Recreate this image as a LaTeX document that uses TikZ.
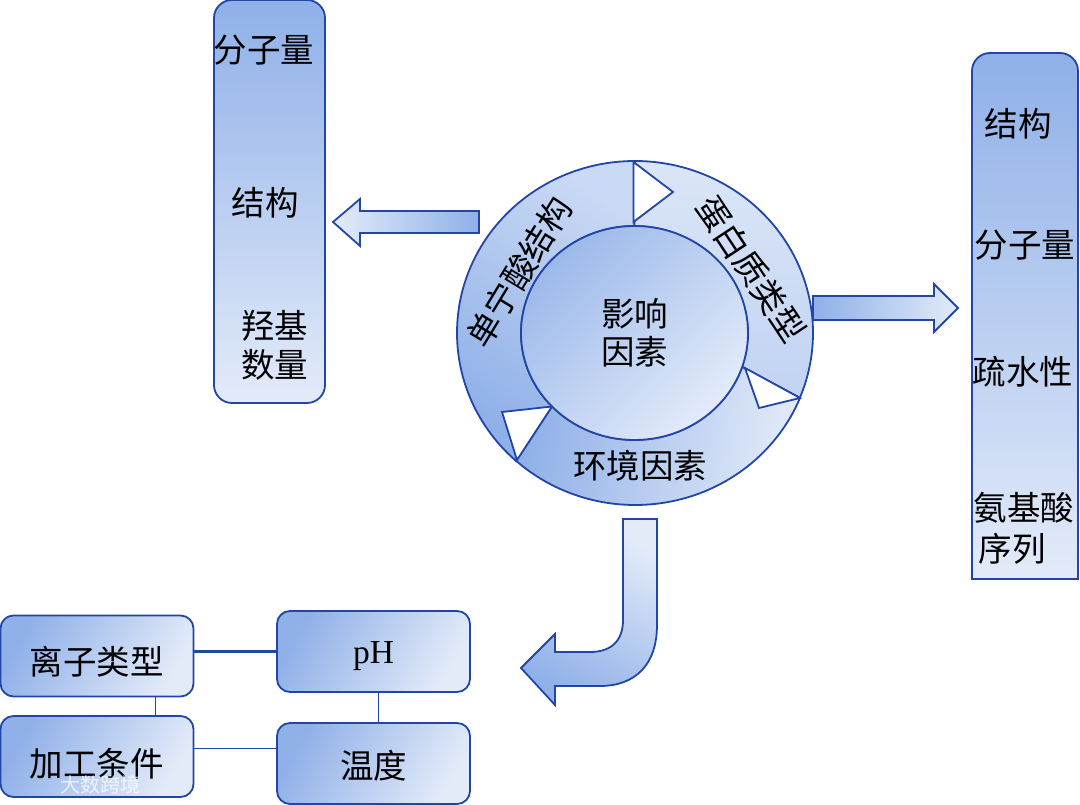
\documentclass[tikz,border=0pt]{standalone}
\usepackage{fontspec}
\setmainfont{Noto Sans CJK SC}
\newfontfamily\latinfont{Liberation Serif}
\usetikzlibrary{shapes.geometric}
\definecolor{edge}{HTML}{2146A6}
\definecolor{deep}{HTML}{8FB0E8}
\definecolor{pale}{HTML}{E3EBF9}
\begin{document}
\begin{tikzpicture}[x=1pt,y=1pt,line width=1.8pt]
  \tikzstyle{tallbox}=[draw=edge, rounded corners=18pt, top color=deep, bottom color=pale, minimum width=111pt, minimum height=403pt]
  \tikzstyle{factor}=[draw=edge, rounded corners=13pt, top color=deep, bottom color=pale, shading angle=60, minimum width=193pt, minimum height=81pt, inner sep=0pt, font=\fontsize{33.5}{39}\selectfont]
  \tikzstyle{item}=[inner sep=0pt, font=\fontsize{33.5}{39}\selectfont]
  \tikzstyle{blockarrow}=[draw=edge, line join=miter]
  \tikzstyle{notch}=[draw=edge, fill=white, line join=miter]
  \useasboundingbox (0,0) rectangle (1080,805);

  % left column
  \node[tallbox] (leftbox) at (269.5,603.5) {};
  \node[item] (leftmass) at (264,755) {分子量};
  \node[item] (leftstruct) at (265,602) {结构};
  \node[item, align=center] (hydroxyl) at (274.5,459.5) {羟基\\数量};

  % right column
  \draw[edge, top color=deep, bottom color=pale, rounded corners=18pt] (972,226) [sharp corners] -- (972,400) [rounded corners=18pt] -- (972,752) -- (1078,752) [sharp corners] -- (1078,226) -- cycle;
  \node[item] (rightstruct) at (1018,681) {结构};
  \node[item] (rightmass) at (1025,560) {分子量};
  \node[item] (hydrophobic) at (1023,433) {疏水性};
  \node[item] (amino) at (1024,297) {氨基酸};
  \node[item] (sequence) at (1012,256) {序列};

  % ring
  \draw[edge, top color=pale!70!deep, bottom color=deep, shading angle=-35] (635,644) arc[start angle=90,end angle=228,x radius=178,y radius=172] -- (552,398.5) arc[start angle=223.4,end angle=90,x radius=113.5,y radius=107] -- cycle;
  \draw[edge, top color=pale!90!deep, bottom color=pale!60!deep, shading angle=0] (635,644) arc[start angle=90,end angle=-22.2,x radius=178,y radius=172] -- (742,438) arc[start angle=-18.5,end angle=90,x radius=113.5,y radius=107] -- cycle;
  \draw[edge, top color=deep, bottom color=pale, shading angle=80] (800,407) arc[start angle=-22.2,end angle=-132,x radius=178,y radius=172] -- (552,398.5) arc[start angle=223.4,end angle=341.5,x radius=113.5,y radius=107] -- cycle;
  \draw[notch] (633.5,643) -- (633.5,583) -- (673,613) -- cycle;
  \draw[notch] (745,437) -- (800,407) -- (759,397) -- cycle;
  \draw[notch] (552,398.5) -- (502,393) -- (517,345) -- cycle;
  \node[draw=edge, ellipse, top color=deep!85!pale, bottom color=pale, shading angle=45, minimum width=227pt, minimum height=214pt, inner sep=0pt, align=center, font=\fontsize{33.5}{38}\selectfont] (core) at (634.5,472) {影响\\因素};
  \node[item, rotate=58.6] (tannin) at (519,533) {单宁酸结构};
  \node[item, rotate=-56.5] (protein) at (751,536) {蛋白质类型};
  \node[item] (environment) at (640,339) {环境因素};

  % block arrows
  \draw[blockarrow, left color=deep, right color=pale, shading angle=270] (479,572) -- (360,572) -- (360,559) -- (333,583) -- (360,606) -- (360,594) -- (479,594) -- cycle;
  \draw[blockarrow, left color=deep, right color=pale] (813,509) -- (934,509) -- (934,521) -- (958,497) -- (934,473) -- (934,485) -- (813,485) -- cycle;
  \draw[blockarrow, top color=pale, bottom color=deep, shading angle=-30] (623,286) -- (657,286) -- (657,180) .. controls (657,140) and (635,119) .. (600,119) -- (555,119) -- (555,100) -- (521,137) -- (555,171) -- (555,153) -- (590,153) .. controls (612,153) and (623,165) .. (623,185) -- cycle;

  % factor boxes
  \node[factor] (ion) at (97,149) {\raisebox{-19pt}[0pt][0pt]{离子类型}};
  \node[factor] (ph) at (373.5,153.5) {\raisebox{-12pt}[0pt][0pt]{\latinfont pH}};
  \node[factor] (process) at (97,48.5) {\raisebox{-20pt}[0pt][0pt]{加工条件}};
  \node[factor] (temp) at (373.5,41.5) {\raisebox{-15pt}[0pt][0pt]{温度}};
  \draw[edge, line width=2.4pt] (ion.east |- ph.west) -- (ph.west);
  \draw[edge, line width=0.8pt] ([xshift=58pt]ion.south) -- ([xshift=58pt]process.north);
  \draw[edge, line width=0.8pt] ([xshift=4.5pt]ph.south) -- ([xshift=4.5pt]temp.north);
  \draw[edge, line width=0.8pt] ([yshift=8.5pt]process.east) -- ([yshift=15.5pt]temp.west);

  \node[text=white, opacity=0.75, inner sep=0pt, font=\fontsize{20}{24}\selectfont] (mark) at (100,20) {大数跨境};
\end{tikzpicture}
\end{document}
